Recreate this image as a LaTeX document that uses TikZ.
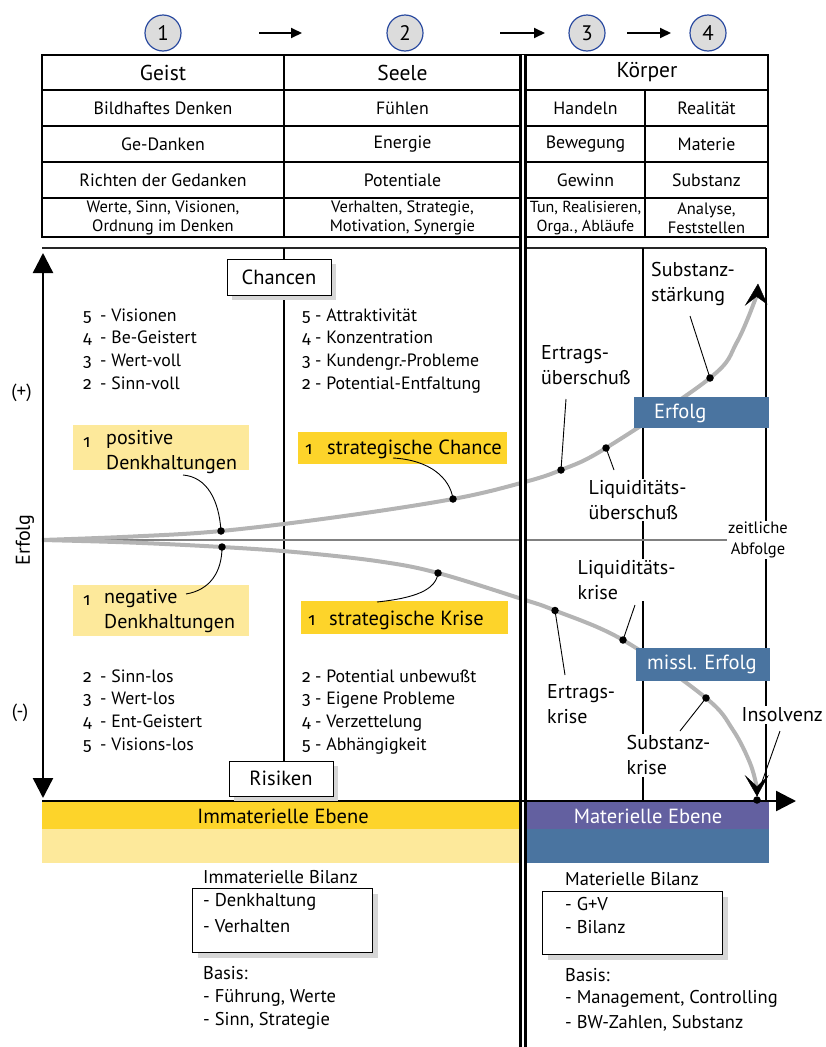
\documentclass[tikz,border=0pt]{standalone}
\usepackage{fontspec}
\setmainfont{PT Sans}
\newfontfamily\osf[Numbers=OldStyle]{Fira Sans}
\usetikzlibrary{arrows.meta,shadows}
\definecolor{gold}{HTML}{FDD42A}
\definecolor{paleyellow}{HTML}{FDE99B}
\definecolor{steel}{HTML}{4A74A0}
\definecolor{violetband}{HTML}{6360A0}
\definecolor{curvegray}{HTML}{B4B4B4}
\definecolor{circlefill}{HTML}{DCDCDC}
\definecolor{circleline}{HTML}{2B4BA0}
\definecolor{zerogray}{HTML}{808080}
\newcommand\fsz[2]{\fontsize{#1}{#2}\selectfont}
\begin{document}
\begin{tikzpicture}[x=1pt,y=-1pt,
  numcirc/.style={circle,draw=circleline,fill=circlefill,line width=1.2pt,minimum size=36pt,inner sep=0pt,font=\fsz{21}{24}},
  flowarrow/.style={line width=2pt,-{Triangle[length=11pt,width=10pt]}},
  tabline/.style={line width=2pt},
  gridline/.style={line width=1.1pt},
  dblrule/.style={line width=3pt,double=white,double distance=2.3pt},
  thead/.style={inner sep=0pt,font=\fsz{21.5}{24}},
  tcell/.style={inner sep=0pt,font=\fsz{17.8}{20}},
  tsmall/.style={inner sep=0pt,align=center,font=\fsz{16.5}{18.5}},
  axisarrow/.style={line width=2.4pt,-{Triangle[length=20pt,width=20pt]}},
  chevronfill/.style={fill=black,draw=black,line width=0.4pt,line join=miter},
  listnum/.style={anchor=base west,inner sep=0pt,font=\osf\fsz{17.5}{20}},
  listitem/.style={anchor=base west,inner sep=0pt,font=\fsz{17.8}{20}},
  lbl/.style={anchor=west,inner sep=0pt,align=left,font=\fsz{20}{25.5}},
  lblw/.style={lbl,fill=white,inner sep=1.5pt},
  boxnum/.style={anchor=base west,inner sep=0pt,font=\osf\fsz{17.5}{20}},
  areabox/.style={anchor=north west,inner sep=0pt},
  whitetext/.style={anchor=west,inner sep=0pt,text=white,font=\fsz{20.5}{22}},
  shadowbox/.style={draw=black,line width=1pt,fill=white,inner sep=0pt,
     drop shadow={shadow xshift=5pt,shadow yshift=-5pt,fill=black!16,opacity=1}},
  curveline/.style={curvegray,line width=4pt},
  curvedot/.style={circle,fill=black,inner sep=0pt,minimum size=7.5pt},
  leaderline/.style={line width=0.9pt},
  btext/.style={anchor=west,inner sep=0pt,font=\fsz{18.5}{20}},
]
\useasboundingbox (0,0) rectangle (826,1047);

% ---------- circles and arrows ----------
\node[numcirc] (c1) at (163,33) {1};
\node[numcirc] (c2) at (405,33) {2};
\node[numcirc] (c3) at (587,33) {3};
\node[numcirc] (c4) at (708,33) {4};
\coordinate (a1s) at (259,33); \coordinate (a1e) at (302,33);
\coordinate (a2s) at (500,33); \coordinate (a2e) at (545,33);
\coordinate (a3s) at (627,33); \coordinate (a3e) at (671,33);
\draw[flowarrow] (a1s) -- (a1e);
\draw[flowarrow] (a2s) -- (a2e);
\draw[flowarrow] (a3s) -- (a3e);

% ---------- table ----------
\foreach \yy in {55,90,126,162,198,237}{\draw[tabline] (42,\yy) -- (768,\yy);}
\draw[tabline] (42,54) -- (42,238);
\draw[tabline] (768,54) -- (768,238);
\draw[tabline] (284,55) -- (284,237);
\draw[tabline] (645,90) -- (645,237);

\node[thead] (hGeist) at (163,72.5) {Geist};
\node[thead] (hSeele) at (402.5,72.5) {Seele};
\node[thead] (hKoerper) at (647,72.5) {Körper};

\node[tcell] (r2a) at (163,108) {Bildhaftes Denken};
\node[tcell] (r2b) at (402.5,108) {Fühlen};
\node[tcell] (r2c) at (585.5,108) {Handeln};
\node[tcell] (r2d) at (706.5,108) {Realität};
\node[tcell] (r3a) at (163,144) {Ge-Danken};
\node[tcell] (r3b) at (402.5,144) {Energie};
\node[tcell] (r3c) at (585.5,144) {Bewegung};
\node[tcell] (r3d) at (706.5,144) {Materie};
\node[tcell] (r4a) at (163,180) {Richten der Gedanken};
\node[tcell] (r4b) at (402.5,180) {Potentiale};
\node[tcell] (r4c) at (585.5,180) {Gewinn};
\node[tcell] (r4d) at (706.5,180) {Substanz};
\node[tsmall] (r5a) at (163,218) {Werte, Sinn, Visionen,\\Ordnung im Denken};
\node[tsmall] (r5b) at (402.5,218) {Verhalten, Strategie,\\Motivation, Synergie};
\node[tsmall,font=\fsz{16}{18.5}] (r5c) at (585.5,218) {Tun, Realisieren,\\Orga., Abläufe};
\node[tsmall] (r5d) at (706.5,218) {Analyse,\\Feststellen};

% ---------- chart frame ----------
\draw[gridline,black!85] (42,248) -- (766,248);
\draw[gridline] (284,248) -- (284,801);
\draw[gridline] (643,248) -- (643,801);
\draw[gridline] (766,248) -- (766,801);
\draw[zerogray,line width=1.6pt] (43,540) -- (766,540);

% ---------- bands ----------
\fill[gold] (42,802) rectangle (521,829);
\fill[paleyellow] (42,829) rectangle (521,863);
\fill[violetband] (526,802) rectangle (769,829);
\fill[steel] (526,829) rectangle (769,863);
\node[inner sep=0pt,font=\fsz{20.5}{22}] (immEbene) at (283,816) {Immaterielle Ebene};
\node[inner sep=0pt,font=\fsz{20.5}{22},text=white] (matEbene) at (648,816) {Materielle Ebene};

% ---------- curves ----------
\coordinate (u0) at (42,540);
\coordinate (ua) at (133,536.5);
\coordinate (u1) at (221,531);
\coordinate (ub) at (337,517);
\coordinate (u2) at (453,499);
\coordinate (uc) at (521,483);
\coordinate (u4) at (561,470);
\coordinate (u5) at (606,448);
\coordinate (u6) at (710,378);
\coordinate (ud) at (737,342);
\coordinate (uend) at (756.5,296);
\draw[curveline]
  plot[smooth,tension=0.6] coordinates {(u0) (ua) (u1) (ub) (u2) (uc) (u4) (u5) (u6) (ud) (uend)};
\coordinate (utip) at (758,284);
\fill[chevronfill] (utip) -- (745.5,305) -- (756.5,296.5) -- (767,304) -- cycle;

\coordinate (la) at (130,542.5);
\coordinate (l1) at (222,547);
\coordinate (lb) at (300,552.5);
\coordinate (lbb) at (380,561.5);
\coordinate (l2) at (438,573);
\coordinate (lc) at (522,599);
\coordinate (l3) at (555,610.5);
\coordinate (l4) at (623,640);
\coordinate (l5) at (706,698);
\coordinate (le) at (733,730);
\coordinate (lf) at (750,763);
\coordinate (lend) at (756.5,786);
\draw[curveline]
  plot[smooth,tension=0.6] coordinates {(u0) (la) (l1) (lb) (lbb) (l2) (lc) (l3) (l4) (l5) (le) (lf) (lend)};
\coordinate (ltip) at (757,796);
\fill[chevronfill] (ltip) -- (745.5,776) -- (757,786.5) -- (768,776) -- cycle;

% ---------- double rule ----------
\coordinate (dtop) at (523,55);
\coordinate (dbot) at (523,1047);
\draw[dblrule] (dtop) -- (dbot);

% ---------- axes ----------
\coordinate (yb) at (43,798);
\coordinate (yt) at (43,253);
\coordinate (xl) at (42,801);
\coordinate (xr) at (796,801);
\draw[line width=2.4pt,{Triangle[length=20pt,width=20pt]}-{Triangle[length=20pt,width=20pt]}] (yb) -- (yt);
\draw[axisarrow] (xl) -- (xr);
\node[rotate=90,inner sep=0pt,font=\fsz{20}{22}] (erfolgAx) at (25,540) {Erfolg};
\node[inner sep=0pt,font=\fsz{19}{22}] (plus) at (21.5,393) {(+)};
\node[inner sep=0pt,font=\fsz{19}{22}] (minus) at (20,713) {(-)};
\node[fill=white,inner sep=1pt,align=center,font=\fsz{16.5}{21}] (zeit) at (758,540) {zeitliche\\Abfolge};

% ---------- Chancen / Risiken ----------
\node[shadowbox,minimum width=104pt,minimum height=36pt,font=\fsz{20.5}{22}] (chancen) at (279,277) {Chancen};
\node[shadowbox,minimum width=104pt,minimum height=35pt,font=\fsz{20.5}{22}] (risiken) at (281,778.5) {Risiken};

% ---------- lists ----------
\foreach \d/\t [count=\i] in {5/Visionen,4/Be-Geistert,3/Wert-voll,2/Sinn-voll}{
  \node[listnum] (ulN\i) at (83,{321+(\i-1)*22.7}) {\d};
  \node[listitem] (ulT\i) at (100,{321+(\i-1)*22.7}) {- \t};}
\foreach \d/\t [count=\i] in {5/Attraktivität,4/Konzentration,3/Kundengr.-Probleme,2/Potential-Entfaltung}{
  \node[listnum] (umN\i) at (302,{321+(\i-1)*22.7}) {\d};
  \node[listitem] (umT\i) at (315,{321+(\i-1)*22.7}) {- \t};}
\foreach \d/\t [count=\i] in {2/Sinn-los,3/Wert-los,4/Ent-Geistert,5/Visions-los}{
  \node[listnum] (llN\i) at (83,{682+(\i-1)*22.7}) {\d};
  \node[listitem] (llT\i) at (100,{682+(\i-1)*22.7}) {- \t};}
\foreach \d/\t [count=\i] in {2/Potential unbewußt,3/Eigene Probleme,4/Verzettelung,5/Abhängigkeit}{
  \node[listnum] (lmN\i) at (302,{682+(\i-1)*22.7}) {\d};
  \node[listitem] (lmT\i) at (315,{682+(\i-1)*22.7}) {- \t};}

% ---------- coloured boxes ----------
\node[areabox,fill=paleyellow,minimum width=176pt,minimum height=45pt] (posBox) at (73,425) {};
\node[boxnum] (posN) at (83,447) {1};
\node[lbl] (posT) at (106,452) {positive\\Denkhaltungen};

\node[areabox,fill=gold,minimum width=209pt,minimum height=32pt] (chBox) at (298,432) {};
\node[boxnum] (chN) at (305,454) {1};
\node[anchor=base west,inner sep=0pt,font=\fsz{20.5}{22}] (chT) at (327,454) {strategische Chance};

\node[areabox,fill=paleyellow,minimum width=176pt,minimum height=51pt] (negBox) at (73,585) {};
\node[boxnum] (negN) at (83,605) {1};
\node[lbl] (negT) at (104,611) {negative\\Denkhaltungen};

\node[areabox,fill=gold,minimum width=207pt,minimum height=33pt] (krBox) at (301,601) {};
\node[boxnum] (krN) at (308,625) {1};
\node[anchor=base west,inner sep=0pt,font=\fsz{20.5}{22}] (krT) at (329,625) {strategische Krise};

\node[areabox,fill=steel,minimum width=135pt,minimum height=31pt] (erfBox) at (634,397) {};
\node[whitetext] (erfT) at (654,413) {Erfolg};
\node[areabox,fill=steel,minimum width=134pt,minimum height=33pt] (misBox) at (636,648) {};
\node[whitetext] (misT) at (647,664) {missl. Erfolg};

% ---------- labels ----------
\node[lbl] (ertU) at (541,365) {Ertrags-\\überschuß};
\node[lblw] (liqU) at (587,500) {Liquiditäts-\\überschuß};
\node[lbl] (subS) at (651,284) {Substanz-\\stärkung};
\node[lblw] (liqK) at (576,580) {Liquiditäts-\\krise};
\node[lbl] (ertK) at (547,704) {Ertrags-\\krise};
\node[lblw] (subK) at (625,755) {Substanz-\\krise};
\node[lblw,font=\fsz{20}{22}] (insol) at (740,715) {Insolvenz};

% ---------- leader lines ----------
\coordinate (posC) at (183,475);
\coordinate (chC) at (393,458);
\coordinate (negC) at (186,594);
\coordinate (krC) at (377,602);
\coordinate (ertUC) at (566,399);
\coordinate (liqUC) at (614,470);
\coordinate (subSC) at (690,316);
\coordinate (liqKC) at (635,605);
\coordinate (ertKC) at (565,675);
\coordinate (subKC) at (680,731);
\coordinate (insC) at (780,731);
\coordinate (xdot) at (757,800);
\draw[leaderline] (posC) .. controls (207,477) and (219,500) .. (u1);
\draw[leaderline] (chC) .. controls (430,460) and (450,478) .. (u2);
\draw[leaderline] (negC) .. controls (210,590) and (222,572) .. (l1);
\draw[leaderline] (krC) .. controls (415,598) and (436,590) .. (l2);
\draw[leaderline] (ertUC) -- (u4);
\draw[leaderline] (liqUC) -- (u5);
\draw[leaderline] (subSC) -- (u6);
\draw[leaderline] (liqKC) -- (l4);
\draw[leaderline] (ertKC) -- (l3);
\draw[leaderline] (subKC) -- (l5);
\draw[leaderline] (insC) -- (ltip);

% ---------- dots ----------
\foreach \p in {u1,u2,u4,u5,u6,l1,l2,l3,l4,l5,xdot}{\node[curvedot] (dot\p) at (\p) {};}

% ---------- bottom ----------
\node[btext] (immB) at (203,877) {Immaterielle Bilanz};
\node[shadowbox,areabox,minimum width=180pt,minimum height=64pt] (immBox) at (192,888) {};
\node[btext] (immB1) at (203,902) {- Denkhaltung};
\node[btext] (immB2) at (203,926) {- Verhalten};
\node[btext] (immBas) at (203,973) {Basis:};
\node[btext] (immBas1) at (203,998) {- Führung, Werte};
\node[btext] (immBas2) at (203,1021) {- Sinn, Strategie};

\node[btext] (matB) at (565,879) {Materielle Bilanz};
\node[shadowbox,areabox,minimum width=180pt,minimum height=63pt] (matBox) at (542,891) {};
\node[btext] (matB1) at (565,904) {- G+V};
\node[btext] (matB2) at (565,927) {- Bilanz};
\node[btext] (matBas) at (565,975) {Basis:};
\node[btext] (matBas1) at (565,999) {- Management, Controlling};
\node[btext] (matBas2) at (565,1023) {- BW-Zahlen, Substanz};
\end{tikzpicture}
\end{document}
